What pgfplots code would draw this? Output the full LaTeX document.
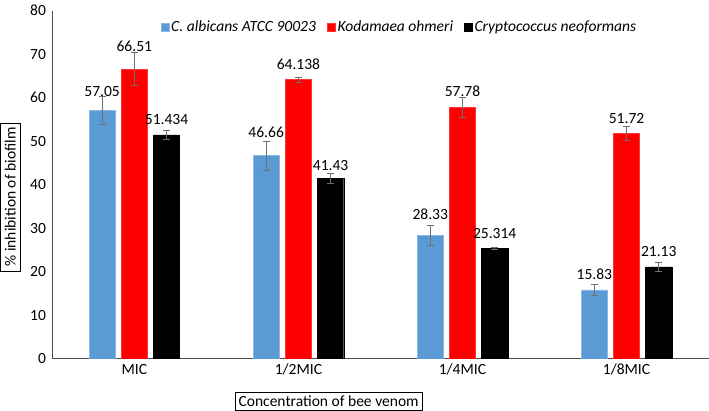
\documentclass[border=0pt]{standalone}
\usepackage{pgfplots}
\pgfplotsset{compat=1.18}
\usepackage{pgfplotstable}
\usepackage{fontspec}
\setmainfont{Carlito}
\definecolor{cblue}{HTML}{5B9BD5}
\definecolor{cred}{HTML}{FF0000}
\definecolor{errgray}{HTML}{707070}

\pgfplotstableread{
x y err lab off
0 57.05 3.3 57.05 8
1 46.66 3.3 46.66 13
2 28.33 2.4 28.33 10
3 15.83 1.3 15.83 5
}\tblA
\pgfplotstableread{
x y err lab off
0 66.51 3.8 66.51 12
1 64.138 0.6 64.138 5
2 57.78 2.3 57.78 5
3 51.72 1.6 51.72 5
}\tblB
\pgfplotstableread{
x y err lab off
0 51.434 1.0 51.434 5
1 41.43 1.1 41.43 2
2 25.314 0.2 25.314 5
3 21.13 1.0 21.13 5
}\tblC

\pgfplotsset{myerr/.style={
  error bars/y dir=both, error bars/y explicit,
  error bars/error bar style={errgray, line width=0.9pt},
  error bars/error mark options={rotate=90, errgray, mark size=3.5bp, line width=0.9pt}}}

\begin{document}%
\fontsize{15.5}{18}\selectfont%
\begin{tikzpicture}
\begin{axis}[
  scale only axis, width=652bp, height=346bp,
  ybar=6bp, bar width=26bp,
  xmin=-0.5, xmax=3.5, ymin=0, ymax=80,
  xtick={0,1,2,3}, xticklabels={MIC,1/2MIC,1/4MIC,1/8MIC},
  ytick={0,10,...,80},
  axis x line=bottom, axis y line=left,
  axis line style={-, black!70, line width=0.8pt},
  major tick length=0pt,
  yticklabel style={xshift=-1bp},
  /pgf/number format/assume math mode=true,
  xlabel={Concentration of bee venom},
  xlabel style={draw=black, line width=0.6pt, at={(axis description cs:0.421,-0.121)}, anchor=center, inner sep=3.5bp},
  ylabel={\% inhibition of biofilm},
  ylabel style={draw=black, line width=0.6pt, at={(axis description cs:-0.064,0.465)}, anchor=center, inner sep=4.5bp},
  legend style={at={(axis description cs:0.165,0.951)}, anchor=west, draw=none, fill=none,
    legend columns=-1, font=\itshape, inner sep=0pt,
    /tikz/every even column/.append style={column sep=9bp},
    nodes={inner xsep=2bp}},
  legend image code/.code={\fill[#1] (0bp,-4bp) rectangle (8bp,4bp);},
  nodes near coords,
  point meta=explicit symbolic,
  visualization depends on={\thisrow{off} \as \loff},
  nodes near coords style={yshift=\loff*1bp, black},
]
\addplot[fill=cblue, draw=cblue!70!white, myerr] table[x=x, y=y, y error=err, meta=lab] {\tblA};
\addplot[fill=cred, draw=cred!80!white, myerr] table[x=x, y=y, y error=err, meta=lab] {\tblB};
\addplot[fill=black, draw=black, myerr] table[x=x, y=y, y error=err, meta=lab] {\tblC};
\legend{C. albicans ATCC 90023, Kodamaea ohmeri, Cryptococcus neoformans}
\end{axis}
\end{tikzpicture}%
\end{document}
